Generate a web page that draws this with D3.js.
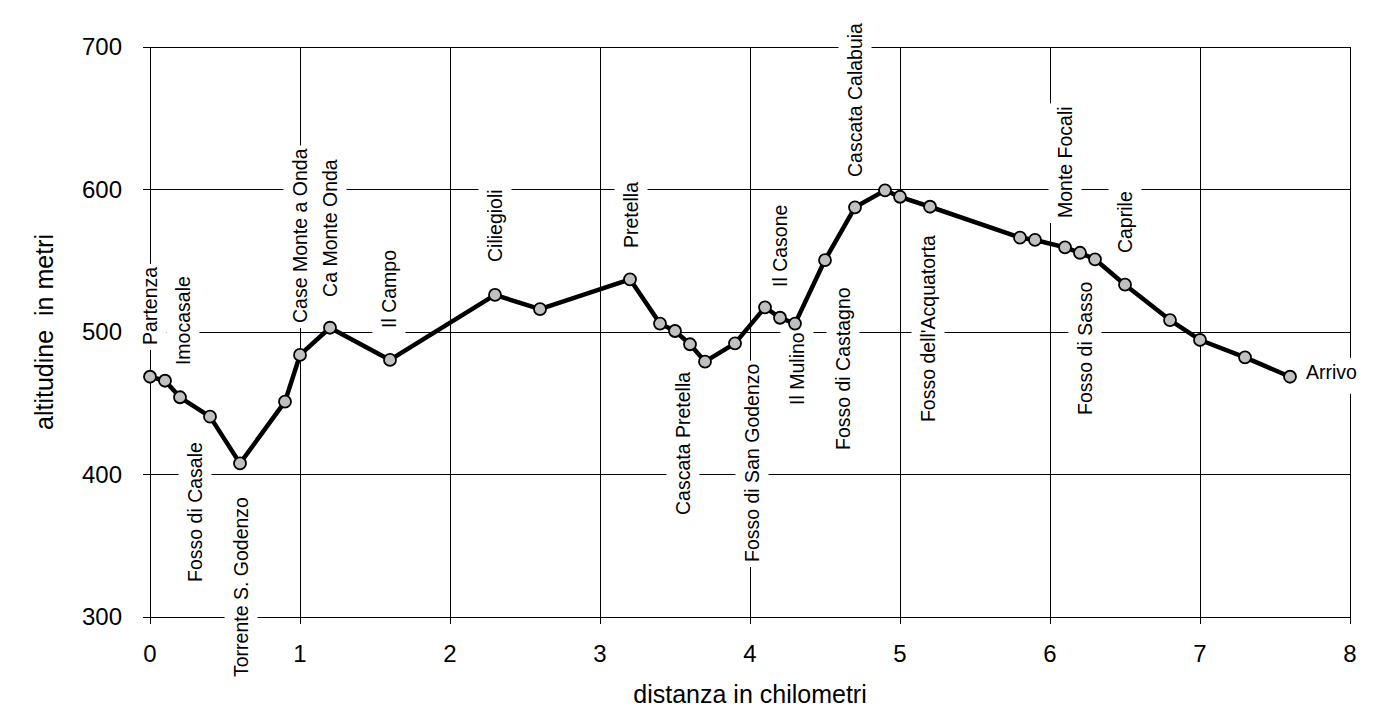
<!DOCTYPE html>
<html><head><meta charset="utf-8">
<script src="https://cdn.jsdelivr.net/npm/d3@7"></script>
<style>
html,body{margin:0;padding:0;background:#fff;}
svg text{font-family:"Liberation Sans",Arial,sans-serif;fill:#000;}
</style></head>
<body>
<svg id="chart" width="1381" height="726"></svg>
<script>
// distance (km) and altitude (m) of the profile points
const distanceKm = [0,0.1,0.2,0.4,0.6,0.9,1.0,1.2,1.6,2.3,2.6,3.2,3.4,3.5,3.6,3.7,3.9,4.1,4.2,4.3,4.5,4.7,4.9,5.0,5.2,5.8,5.9,6.1,6.2,6.3,6.5,6.8,7.0,7.3,7.6];
const altitudeM  = [468.6,465.8,454.2,440.6,407.8,451.1,483.9,503.0,480.4,526,516,537.0,505.9,500.7,491.4,479.2,492.0,517.3,510.0,505.9,550.5,587.5,599.4,594.9,587.9,566.2,564.6,559.4,555.6,551.0,533.2,508.4,494.4,482.2,468.6];

// place-name labels: name, km position, altitude where the (vertical) text starts
const labelNames = ["Partenza","Imocasale","Fosso di Casale","Torrente S. Godenzo","Case Monte a Onda","Ca Monte Onda","Il Campo","Ciliegioli","Pretella","Cascata Pretella","Fosso di San Godenzo","Il Casone","Il Mulino","Fosso di Castagno","Cascata Calabuia","Fosso dell'Acquatorta","Monte Focali","Fosso di Sasso","Caprile"];
const labelKm    = [0,0.22,0.3,0.607,1.0,1.2,1.593,2.3,3.207,3.553,4.013,4.2,4.313,4.62,4.7,5.187,6.1,6.233,6.5];
const labelAlt   = [490.9,476.8,324.6,257.9,506.3,524.6,502.8,549.1,558.9,371.6,338.6,531.6,448.8,417.2,608.8,436.8,580,441.8,555.4];
const endLabel = {name:"Arrivo", km:7.707, alt:468.6};

const xTicks = [0,1,2,3,4,5,6,7,8];
const yTicks = [300,400,500,600,700];

(function(){
const svg = d3.select("#chart");
const mL=150, mR=1350, mT=47, mB=617;
const x = d3.scaleLinear().domain([0,8]).range([mL,mR]);
const y = d3.scaleLinear().domain([300,700]).range([mB,mT]);

// grid
const grid = svg.append("g");
grid.selectAll("line.h").data(yTicks).join("line").attr("class","h")
  .attr("x1",mL-7).attr("x2",mR).attr("y1",d=>y(d)).attr("y2",d=>y(d))
  .attr("stroke","#000").attr("stroke-width",1).attr("shape-rendering","crispEdges");
grid.selectAll("line.v").data(xTicks).join("line").attr("class","v")
  .attr("x1",d=>x(d)).attr("x2",d=>x(d)).attr("y1",mT).attr("y2",mB+7)
  .attr("stroke","#000").attr("stroke-width",1).attr("shape-rendering","crispEdges");

// tick labels
svg.append("g").selectAll("text").data(yTicks).join("text")
  .attr("x",mL-28).attr("y",d=>y(d)).attr("dy","0.35em")
  .attr("text-anchor","end").attr("font-size",24).text(d=>d);
svg.append("g").selectAll("text").data(xTicks).join("text")
  .attr("x",d=>x(d)).attr("y",mB+45)
  .attr("text-anchor","middle").attr("font-size",24).text(d=>d);

// axis titles
svg.append("text").attr("x",750).attr("y",703).attr("text-anchor","middle")
  .attr("font-size",25).text("distanza in chilometri");
svg.append("text").attr("transform",`translate(53,${(mT+mB)/2}) rotate(-90)`)
  .attr("text-anchor","middle").attr("font-size",25)
  .attr("xml:space","preserve").style("white-space","pre")
  .text("altitudine  in metri");

// label boxes layer (below line), texts layer (above)
const boxLayer = svg.append("g");
const lineLayer = svg.append("g");
const textLayer = svg.append("g");

const labels = labelNames.map((n,i)=>({name:n, km:labelKm[i], alt:labelAlt[i]}));
labels.forEach(d=>{
  const g = textLayer.append("g").attr("transform",`translate(${x(d.km)},${y(d.alt)}) rotate(-90)`);
  const t = g.append("text").attr("x",0).attr("y",0).attr("dy","0.35em")
    .attr("font-size",19.5).text(d.name);
  const len = t.node().getComputedTextLength();
  boxLayer.append("rect").attr("transform",`translate(${x(d.km)},${y(d.alt)}) rotate(-90)`)
    .attr("x",-5).attr("y",-16.5).attr("width",len+8).attr("height",33).attr("fill","#fff");
});
// end label
{
  const t = textLayer.append("text").attr("x",x(endLabel.km)).attr("y",y(endLabel.alt)).attr("dy","0.1em")
    .attr("font-size",19.5).text(endLabel.name);
  const len = t.node().getComputedTextLength();
  boxLayer.append("rect").attr("x",x(endLabel.km)-4).attr("y",y(endLabel.alt)-19)
    .attr("width",len+8).attr("height",36).attr("fill","#fff");
}

// profile line and markers
const pts = distanceKm.map((k,i)=>[k,altitudeM[i]]);
lineLayer.append("path").datum(pts)
  .attr("d",d3.line().x(d=>x(d[0])).y(d=>y(d[1])))
  .attr("fill","none").attr("stroke","#000").attr("stroke-width",4.5).attr("stroke-linejoin","round");
lineLayer.selectAll("circle").data(pts).join("circle")
  .attr("cx",d=>x(d[0])).attr("cy",d=>y(d[1])).attr("r",6)
  .attr("fill","#c0c0c0").attr("stroke","#000").attr("stroke-width",1.8);
})();
</script>
</body></html>
